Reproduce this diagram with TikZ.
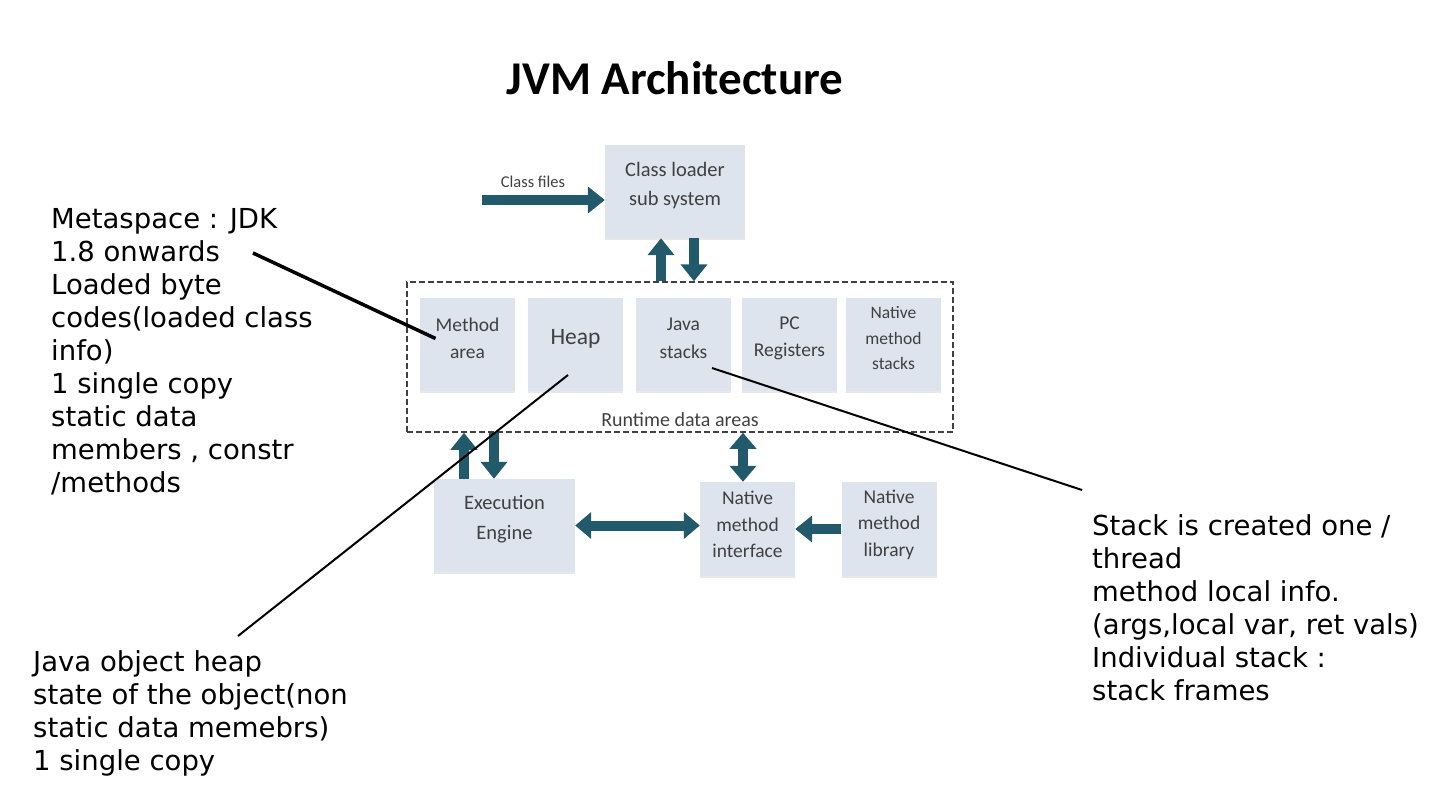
\documentclass[tikz,border=0pt]{standalone}
\usepackage{fontspec}
\setmainfont{Carlito}
\newfontfamily\notefont{DejaVu Sans}
\usepackage{tikz}
\usetikzlibrary{arrows.meta,positioning,shadows}

\definecolor{boxfill}{HTML}{DDE4EE}
\definecolor{boxtext}{HTML}{404040}
\definecolor{pipeblue}{HTML}{235A6B}

\tikzset{
  unit/.style={fill=boxfill, inner sep=0pt, minimum width=95pt, minimum height=93pt,
    drop shadow={opacity=0.18, shadow xshift=0pt, shadow yshift=-2pt}},
  unittext/.style={align=center, text=boxtext, inner sep=0pt, yshift=6pt,
    font=\fontsize{19.5}{27.5}\selectfont},
  pipe/.style={draw=pipeblue, line width=10pt, -{Triangle[width=26pt,length=17pt]}},
  twopipe/.style={draw=pipeblue, line width=10pt,
    {Triangle[width=26pt,length=16pt]}-{Triangle[width=26pt,length=16pt]}},
  note/.style={anchor=north west, inner sep=0pt, align=left,
    font=\notefont\fontsize{27.5}{33}\selectfont},
  pointer/.style={draw=black, line width=2pt},
}

\begin{document}
\begin{tikzpicture}[x=1pt, y=-1pt]
\useasboundingbox (0,0) rectangle (1446,795);

% Title
\node (title) at (675,78) {\fontsize{47}{56}\selectfont\bfseries JVM Architecture};


% Class loader sub system
\node[unit, minimum width=140pt,
  label={[unittext, name=loadertext, font=\fontsize{20.5}{29}\selectfont]center:Class loader\\sub system}]
  (loader) at (675,191.5) {};

\coordinate (filesin) at (482,200);
\draw[pipe] (filesin) -- (filesin -| loader.west);
\node[text=boxtext, inner sep=0pt, font=\fontsize{16.5}{20}\selectfont] (fileslabel) at (533,182) {Class files};


% Runtime data areas
\node[draw=black!75, dash pattern=on 6pt off 3pt, line width=1.5pt, inner sep=0pt,
  minimum width=546pt, minimum height=150pt] (runtime) at (680,357) {};
\node[text=boxtext, inner sep=0pt, font=\fontsize{20}{24}\selectfont] (runtimelabel) at (680,420) {Runtime data areas};

\node[unit, label={[unittext, name=methodtext]center:Method\\area}] (method) at (467.5,344.5) {};
\node[unit, label={[unittext, name=heaptext, font=\fontsize{23.5}{28}\selectfont]center:Heap}] (heap) at (575.5,344.5) {};
\node[unit, label={[unittext, name=jstacktext]center:Java\\stacks}] (jstack) at (683.5,344.5) {};
\node[unit, label={[unittext, name=pcregtext]center:PC\\Registers}] (pcreg) at (789.5,344.5) {};
\node[unit, label={[unittext, name=nstacktext, font=\fontsize{17.5}{25.5}\selectfont]center:Native\\method\\stacks}] (nstack) at (893.5,344.5) {};

\draw[pipe] ([xshift=-14pt]loader.south |- runtime.north) -- ([xshift=-14pt]loader.south);
\draw[pipe] ([xshift=19pt]loader.south) -- ([xshift=19pt]loader.south |- runtime.north);


% Execution engine and native side
\node[unit, minimum width=141pt,
  label={[unittext, name=enginetext, font=\fontsize{20.5}{30}\selectfont]center:Execution\\Engine}]
  (engine) at (504.5,525.5) {};
\node[unit, minimum height=94pt,
  label={[unittext, name=ifacetext, yshift=-1.5pt, font=\fontsize{19.5}{26.5}\selectfont]center:Native\\method\\interface}]
  (iface) at (747.5,529) {};
\node[unit, minimum height=94pt,
  label={[unittext, name=libtext, yshift=-1.5pt, font=\fontsize{19.5}{26.5}\selectfont]center:Native\\method\\library}]
  (lib) at (889,529) {};

\draw[pipe] ([xshift=-40.5pt]engine.north) -- ([xshift=-40.5pt]engine.north |- runtime.south);
\draw[pipe] ([xshift=-10.5pt]engine.north |- runtime.south) -- ([xshift=-10.5pt]engine.north);
\draw[twopipe] ([xshift=-4.5pt]iface.north |- runtime.south) -- ([xshift=-4.5pt]iface.north);
\draw[twopipe] (engine.east) -- (engine.east -| iface.west);
\draw[pipe] (lib.west) -- (lib.west -| iface.east);


% Notes
\node[note] (metanote) at (51,208) {Metaspace : JDK\\1.8 onwards\\Loaded byte\\codes(loaded class\\info)\\1 single copy\\static data\\members , constr\\/methods};
\node[note] (heapnote) at (33,650) {Java object heap\\state of the object(non\\static data memebrs)\\1 single copy};
\node[note] (stacknote) at (1092,514) {Stack is created one /\\thread\\method local info.\\(args,local var, ret vals)\\Individual stack :\\stack frames};

\coordinate (metatail) at (253,253);
\coordinate (heaptail) at (238,636);
\coordinate (stacktail) at (1082,490);
\draw[pointer, line width=3.5pt] (metatail) -- (methodtext.west);
\draw[pointer] (heaptail) -- ([xshift=-7.5pt,yshift=-30.5pt]heap.center);
\draw[pointer] (stacktail) -- ([xshift=28.5pt,yshift=-23.5pt]jstack.center);

\end{tikzpicture}
\end{document}
